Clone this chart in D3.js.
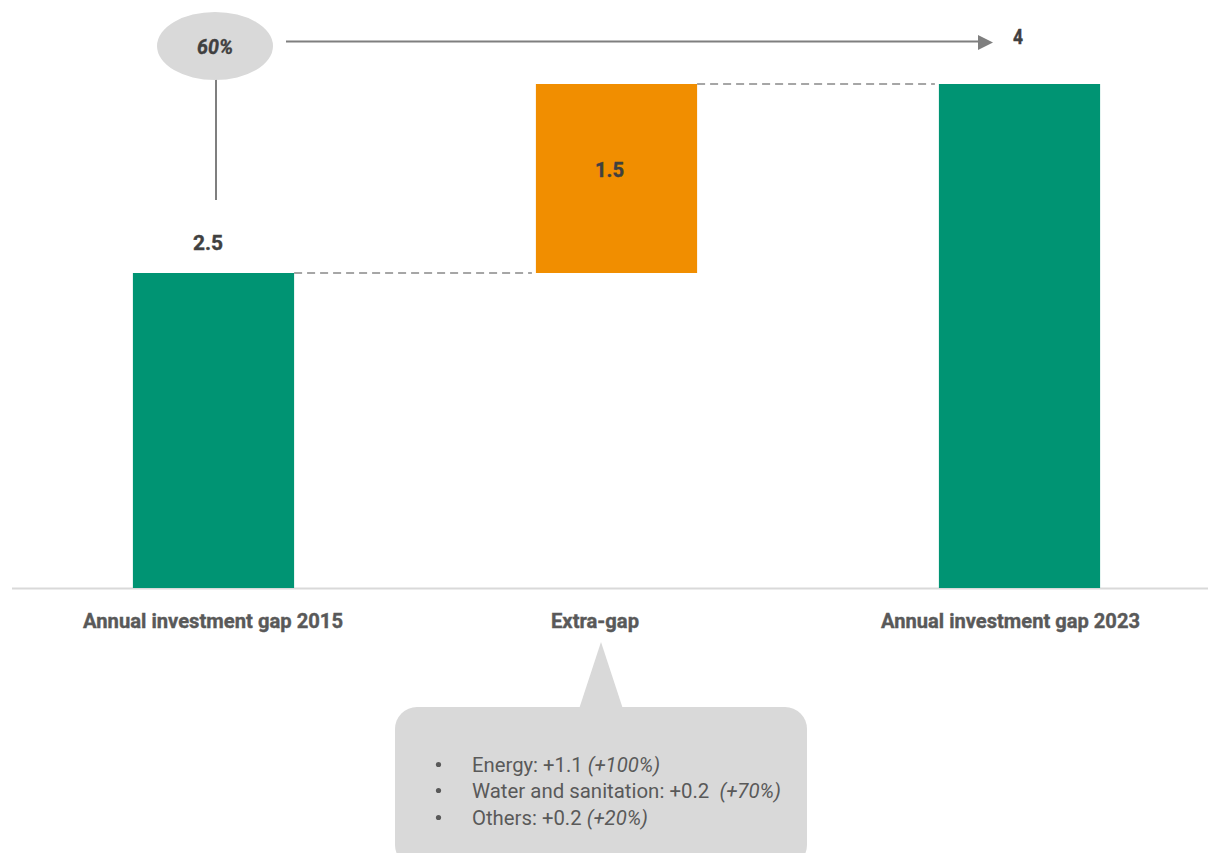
<!DOCTYPE html>
<html>
<head>
<meta charset="utf-8">
<script src="https://cdn.jsdelivr.net/npm/d3@7"></script>
<style>
  html, body { margin: 0; padding: 0; background: #fff; }
  svg { display: block; font-family: Roboto, "Noto Sans", sans-serif; }
</style>
</head>
<body>
<svg id="chart" width="1208" height="853"></svg>
<script>
// ---- data ----
const categories = ["Annual investment gap 2015", "Extra-gap", "Annual investment gap 2023"];
const barStart = [0, 2.5, 0];
const barEnd = [2.5, 4, 4];
const barLabels = ["2.5", "1.5", "4"];
const barTypes = ["total", "delta", "total"];
const growthLabel = "60%";
const breakdownItems = ["Energy: +1.1 ", "Water and sanitation: +0.2  ", "Others: +0.2 "];
const breakdownPct = ["(+100%)", "(+70%)", "(+20%)"];

// ---- setup ----
const W = 1208, H = 853;
const svg = d3.select("#chart");
const colors = { total: "#009473", delta: "#F18E00" };

const x = d3.scaleBand().domain(categories).range([12, 1221]).paddingInner(0.6).paddingOuter(0.3);
const y = d3.scaleLinear().domain([0, 4]).range([588, 84]);

function cx(i) { return x(categories[i]) + x.bandwidth() / 2; }

// condensed text helper
function fit(sel, w) {
  sel.attr("textLength", w).attr("lengthAdjust", "spacingAndGlyphs");
  return sel;
}

// axis baseline
const xAxis = d3.axisBottom(x).tickSize(0).tickFormat("");
const axG = svg.append("g").attr("transform", `translate(0,${y(0)})`).call(xAxis);
axG.select(".domain").attr("d", `M12,0.5H${W}`).attr("stroke", "#d9d9d9").attr("stroke-width", 2);

// connectors
const dash = svg.append("g").attr("stroke", "#a6a6a6").attr("stroke-width", 2).attr("stroke-dasharray", "8,5").attr("fill", "none");
for (let i = 0; i < categories.length - 1; i++) {
  const yy = y(barEnd[i]);
  dash.append("line")
    .attr("x1", x(categories[i]) + x.bandwidth()).attr("x2", x(categories[i + 1]) - 4)
    .attr("y1", yy).attr("y2", yy);
}

// bars
svg.append("g").selectAll("rect").data(categories).join("rect")
  .attr("x", d => x(d))
  .attr("width", x.bandwidth())
  .attr("y", (d, i) => y(barEnd[i]))
  .attr("height", (d, i) => y(barStart[i]) - y(barEnd[i]))
  .attr("fill", (d, i) => colors[barTypes[i]]);

// value labels
const labelW = [30, 29, 10];
const lbl = svg.append("g").attr("font-weight", 700).attr("font-size", 21).attr("fill", "#404040")
  .attr("stroke", "#404040").attr("stroke-width", 0.4).attr("text-anchor", "middle");
lbl.append("text").attr("x", cx(0) - 5.5).attr("y", y(barEnd[0]) - 23).text(barLabels[0]).call(fit, labelW[0]);
lbl.append("text").attr("x", cx(1) - 7).attr("y", y((barStart[1] + barEnd[1]) / 2) + 7.5 - 9).text(barLabels[1]).call(fit, labelW[1]);
lbl.append("text").attr("x", cx(2) - 1.5).attr("y", 44).text(barLabels[2]).call(fit, labelW[2]);

// category labels
const catW = [260, 88, 259];
const catShift = [-0.5, -21.5, -9];
const catG = svg.append("g").attr("font-weight", 700).attr("font-size", 21).attr("fill", "#595959")
  .attr("stroke", "#595959").attr("stroke-width", 0.4).attr("text-anchor", "middle");
categories.forEach((c, i) => {
  catG.append("text").attr("x", cx(i) + catShift[i]).attr("y", 628).text(c).call(fit, catW[i]);
});

// growth ellipse + arrows
const ex = 215, ey = 46;
svg.append("line").attr("x1", ex + 1).attr("x2", ex + 1).attr("y1", ey + 30).attr("y2", 200)
  .attr("stroke", "#7f7f7f").attr("stroke-width", 2);
svg.append("ellipse").attr("cx", ex).attr("cy", ey).attr("rx", 58).attr("ry", 34).attr("fill", "#d9d9d9");
svg.append("text").attr("x", ex).attr("y", ey + 7.5).attr("text-anchor", "middle")
  .attr("font-weight", 700).attr("font-style", "italic").attr("font-size", 21).attr("fill", "#404040")
  .attr("stroke", "#404040").attr("stroke-width", 0.4)
  .text(growthLabel).call(fit, 36);
svg.append("line").attr("x1", 286).attr("x2", 980).attr("y1", 41.5).attr("y2", 41.5)
  .attr("stroke", "#7f7f7f").attr("stroke-width", 2);
svg.append("path").attr("d", "M978,35L993,42.5L978,50Z").attr("fill", "#7f7f7f");

// callout
const callout = svg.append("g");
callout.append("path").attr("d", "M579,709L601,642L623,709Z").attr("fill", "#d9d9d9");
callout.append("rect").attr("x", 395).attr("y", 707).attr("width", 412).attr("height", 160).attr("rx", 22).attr("fill", "#d9d9d9");
const itemW = [188, 309, 176];
const baseY = [772, 798, 825];
breakdownItems.forEach((t, i) => {
  callout.append("circle").attr("cx", 438.5).attr("cy", baseY[i] - 7.5).attr("r", 2.6).attr("fill", "#595959");
  const tx = callout.append("text").attr("x", 472).attr("y", baseY[i])
    .attr("font-size", 21).attr("fill", "#595959").attr("xml:space", "preserve");
  tx.append("tspan").text(t);
  tx.append("tspan").attr("font-style", "italic").text(breakdownPct[i]);
  tx.call(fit, itemW[i]);
});
</script>
</body>
</html>
